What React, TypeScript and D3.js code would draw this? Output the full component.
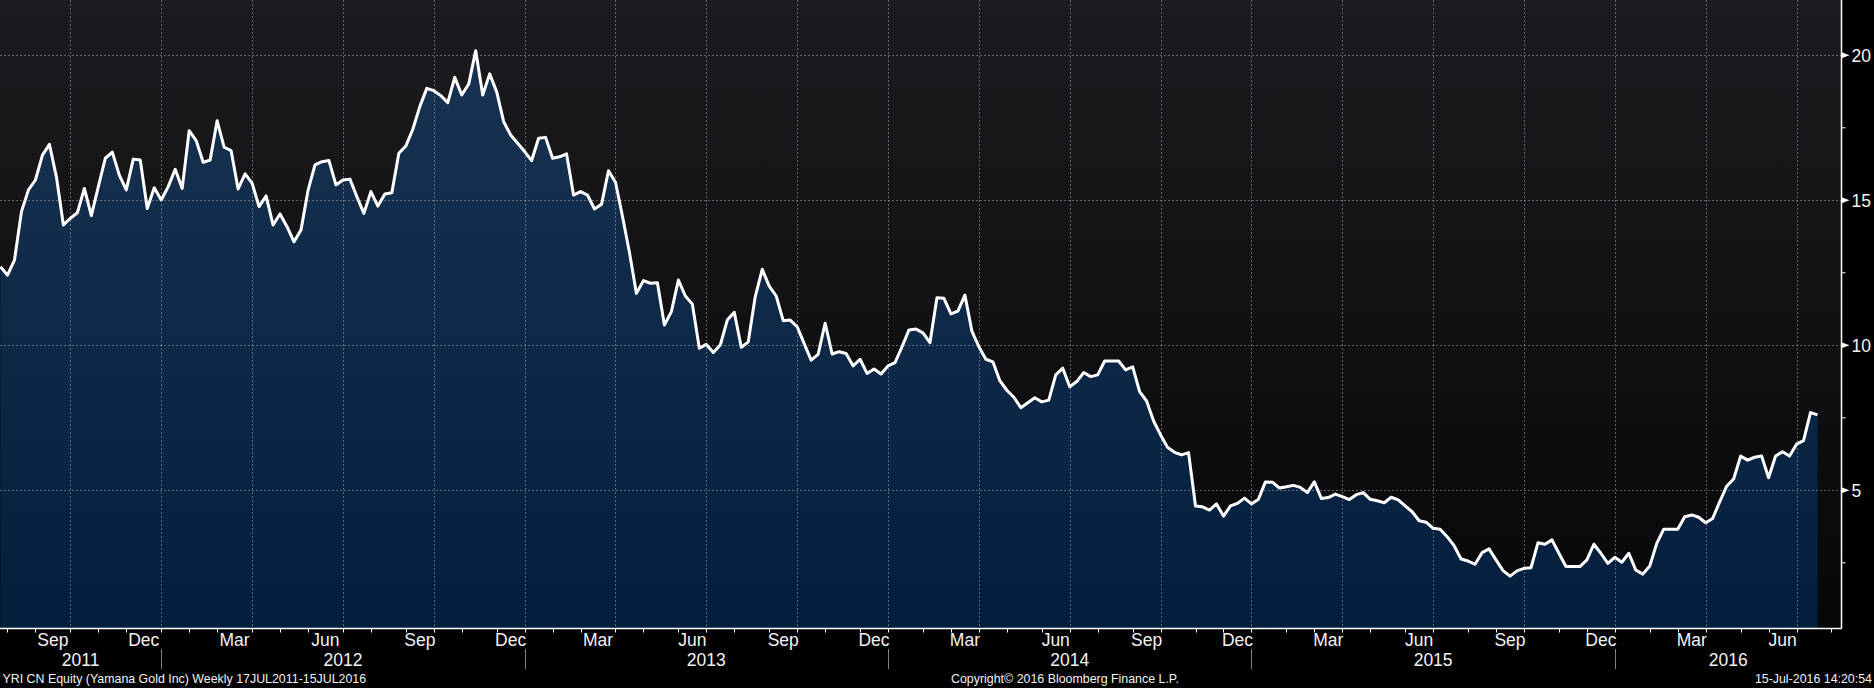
/**
 * YRI CN Equity weekly close, Bloomberg-style area chart
 * - week index x axis (Bloomberg spaces periods evenly)
 * - right value axis, month ticks / quarter labels / year row
 */
import { useEffect, useRef } from 'react'
import * as d3 from 'd3'

const W = 1874
const H = 688
const AXIS_X = 1841.5   // right value axis
const AXIS_Y = 628.5    // bottom time axis
const FONT = '"Liberation Sans", Arial, sans-serif'

// first weekly close (Friday) — 17JUL2011-15JUL2016 window
const START = new Date(2011, 6, 22)

// weekly closes, CAD
const PRICES: number[] = [
  12.71, 12.42, 12.94, 14.61, 15.36, 15.70, 16.56, 16.93, 15.81, 14.15,
  14.38, 14.57, 15.41, 14.47, 15.47, 16.45, 16.66, 15.87, 15.36, 16.42,
  16.39, 14.72, 15.43, 15.01, 15.47, 16.07, 15.41, 17.40, 17.06, 16.31,
  16.39, 17.74, 16.83, 16.71, 15.39, 15.91, 15.59, 14.78, 15.15, 14.15,
  14.53, 14.09, 13.57, 13.98, 15.33, 16.22, 16.33, 16.37, 15.53, 15.70,
  15.73, 15.12, 14.55, 15.30, 14.80, 15.22, 15.26, 16.62, 16.87, 17.45,
  18.23, 18.86, 18.78, 18.61, 18.37, 19.24, 18.63, 19.01, 20.16, 18.63,
  19.36, 18.74, 17.71, 17.25, 16.97, 16.68, 16.37, 17.14, 17.17, 16.45,
  16.50, 16.60, 15.18, 15.30, 15.18, 14.70, 14.86, 16.02, 15.62, 14.45,
  13.20, 11.79, 12.23, 12.14, 12.16, 10.70, 11.16, 12.25, 11.70, 11.42,
  9.90, 10.03, 9.75, 10.01, 10.87, 11.14, 9.93, 10.12, 11.68, 12.62,
  12.04, 11.70, 10.85, 10.87, 10.64, 10.06, 9.49, 9.69, 10.76, 9.70,
  9.78, 9.72, 9.29, 9.52, 9.03, 9.18, 9.01, 9.29, 9.40, 9.95,
  10.53, 10.56, 10.43, 10.09, 11.64, 11.62, 11.08, 11.18, 11.73, 10.49,
  9.95, 9.52, 9.43, 8.78, 8.45, 8.21, 7.85, 8.02, 8.19, 8.05,
  8.11, 8.98, 9.21, 8.57, 8.75, 9.06, 8.92, 8.98, 9.46, 9.46,
  9.46, 9.15, 9.26, 8.40, 8.08, 7.39, 6.91, 6.48, 6.31, 6.22,
  6.30, 4.46, 4.43, 4.32, 4.53, 4.11, 4.46, 4.55, 4.73, 4.53,
  4.69, 5.29, 5.28, 5.08, 5.12, 5.17, 5.10, 4.92, 5.29, 4.72,
  4.75, 4.87, 4.78, 4.68, 4.85, 4.92, 4.69, 4.64, 4.57, 4.76,
  4.67, 4.46, 4.26, 3.95, 3.90, 3.69, 3.66, 3.40, 3.09, 2.63,
  2.56, 2.45, 2.85, 2.98, 2.60, 2.23, 2.04, 2.22, 2.31, 2.33,
  3.19, 3.14, 3.29, 2.83, 2.37, 2.37, 2.37, 2.60, 3.14, 2.83,
  2.48, 2.69, 2.52, 2.83, 2.25, 2.11, 2.39, 3.17, 3.66, 3.66,
  3.66, 4.09, 4.15, 4.07, 3.88, 4.03, 4.60, 5.14, 5.39, 6.18,
  6.04, 6.14, 6.18, 5.43, 6.18, 6.33, 6.18, 6.59, 6.71, 7.68,
  7.60,
]

const Y_TICKS = [5, 10, 15, 20]
const Y_MINOR = [2.5, 7.5, 12.5, 17.5]
const MONTHS = ['Jan', 'Feb', 'Mar', 'Apr', 'May', 'Jun', 'Jul', 'Aug', 'Sep', 'Oct', 'Nov', 'Dec']
const QUARTER_END = [2, 5, 8, 11]

const FOOT_LEFT = 'YRI CN Equity (Yamana Gold Inc)  Weekly 17JUL2011-15JUL2016'
const FOOT_MID = 'Copyright\u00A9 2016 Bloomberg Finance L.P.'
const FOOT_RIGHT = '15-Jul-2016 14:20:54'

export default function App() {
  const svgRef = useRef<SVGSVGElement>(null)

  useEffect(() => {
    document.body.style.margin = '0'
    document.body.style.background = '#000'

    const svg = d3.select(svgRef.current)
    svg.selectAll('*').remove()
    svg.attr('width', W).attr('height', H).attr('viewBox', `0 0 ${W} ${H}`)

    const n = PRICES.length
    const x = d3.scaleLinear().domain([0, n - 1]).range([0.5, 1817.5])
    const y = d3.scaleLinear().domain([0, 20]).range([635.3, 55.3])

    // weeks on the axis (data + empty weeks up to the value axis)
    const weeks: Date[] = []
    for (let i = 0; x(i) <= AXIS_X + 14; i++) weeks.push(d3.timeDay.offset(START, 7 * i))

    // last week of each month -> month boundary tick
    const monthEnds: { i: number; m: number; yr: number }[] = []
    weeks.forEach((d, i) => {
      const next = d3.timeDay.offset(d, 7)
      if (next.getMonth() !== d.getMonth() && x(i) <= AXIS_X)
        monthEnds.push({ i, m: d.getMonth(), yr: d.getFullYear() })
    })

    const defs = svg.append('defs')
    const bg = defs.append('linearGradient').attr('id', 'bg')
      .attr('x1', 0).attr('x2', 0).attr('y1', 0).attr('y2', 1)
    bg.append('stop').attr('offset', 0).attr('stop-color', '#1c1c20')
    bg.append('stop').attr('offset', 1).attr('stop-color', '#07070a')
    const ag = defs.append('linearGradient').attr('id', 'area')
      .attr('gradientUnits', 'userSpaceOnUse')
      .attr('x1', 0).attr('x2', 0).attr('y1', y(20)).attr('y2', AXIS_Y)
    ag.append('stop').attr('offset', 0).attr('stop-color', '#183352')
    ag.append('stop').attr('offset', 1).attr('stop-color', '#041e3e')

    svg.append('rect').attr('width', W).attr('height', H).attr('fill', '#000')
    svg.append('rect').attr('x', 0).attr('y', 0)
      .attr('width', AXIS_X).attr('height', AXIS_Y).attr('fill', 'url(#bg)')

    // ── area + gridlines + line ──
    const area = d3.area<number>()
      .x((_, i) => x(i)).y0(AXIS_Y).y1((d) => y(d))
    svg.append('path').datum(PRICES).attr('d', area).attr('fill', 'url(#area)')

    const grid = svg.append('g')
      .attr('stroke', 'rgba(165,165,175,0.55)').attr('stroke-width', 1)
      .attr('stroke-dasharray', '2 2')
    Y_TICKS.forEach((v) => {
      grid.append('line')
        .attr('x1', 0).attr('x2', AXIS_X)
        .attr('y1', Math.round(y(v)) + 0.5).attr('y2', Math.round(y(v)) + 0.5)
    })
    monthEnds.filter((d) => QUARTER_END.includes(d.m)).forEach((d) => {
      const xv = Math.round(x(d.i)) + 0.5
      grid.append('line').attr('x1', xv).attr('x2', xv).attr('y1', 0).attr('y2', AXIS_Y)
    })

    const line = d3.line<number>().x((_, i) => x(i)).y((d) => y(d))
    svg.append('path').datum(PRICES).attr('d', line)
      .attr('fill', 'none').attr('stroke', '#fff').attr('stroke-width', 3)
      .attr('stroke-linejoin', 'round')

    // ── axes ──
    svg.append('line').attr('x1', 0).attr('x2', AXIS_X)
      .attr('y1', AXIS_Y).attr('y2', AXIS_Y).attr('stroke', '#fff').attr('stroke-width', 1.3)
    svg.append('line').attr('x1', AXIS_X).attr('x2', AXIS_X)
      .attr('y1', 0).attr('y2', AXIS_Y).attr('stroke', '#fff').attr('stroke-width', 1.5)

    // right axis: triangle markers + labels, minor ticks
    Y_TICKS.forEach((v) => {
      const yv = y(v)
      svg.append('path')
        .attr('d', `M${AXIS_X},${yv - 3} L${AXIS_X + 8},${yv} L${AXIS_X},${yv + 3} Z`)
        .attr('fill', '#fff')
      svg.append('text')
        .attr('x', AXIS_X + 10).attr('y', yv + 6.5)
        .attr('font-family', FONT).attr('font-size', 17.5).attr('fill', '#f2f2f2')
        .text(d3.format('d')(v))
    })
    Y_MINOR.forEach((v) => {
      svg.append('line')
        .attr('x1', AXIS_X).attr('x2', AXIS_X + 4)
        .attr('y1', y(v)).attr('y2', y(v))
        .attr('stroke', '#fff').attr('stroke-width', 1)
    })

    // bottom axis: month ticks, quarter labels
    monthEnds.forEach((d, k) => {
      const xv = Math.round(x(d.i)) + 0.5
      svg.append('line').attr('x1', xv).attr('x2', xv)
        .attr('y1', AXIS_Y).attr('y2', AXIS_Y + 4)
        .attr('stroke', '#fff').attr('stroke-width', 1)
      if (QUARTER_END.includes(d.m) && k > 0) {
        const cx = (x(monthEnds[k - 1].i) + x(d.i)) / 2
        svg.append('text')
          .attr('x', cx).attr('y', 646)
          .attr('text-anchor', 'middle')
          .attr('font-family', FONT).attr('font-size', 17.5).attr('fill', '#f2f2f2')
          .text(MONTHS[d.m])
      }
    })

    // year row: separators at year end, label centred in visible span
    const yearEnds = monthEnds.filter((d) => d.m === 11)
    yearEnds.forEach((d) => {
      const xv = Math.round(x(d.i)) + 0.5
      svg.append('line').attr('x1', xv).attr('x2', xv)
        .attr('y1', 649).attr('y2', 669)
        .attr('stroke', '#808080').attr('stroke-width', 1)
    })
    const bounds = [0, ...yearEnds.map((d) => x(d.i)), AXIS_X]
    const firstYear = weeks[0].getFullYear()
    for (let k = 0; k < bounds.length - 1; k++) {
      svg.append('text')
        .attr('x', (bounds[k] + bounds[k + 1]) / 2).attr('y', 666)
        .attr('text-anchor', 'middle')
        .attr('font-family', FONT).attr('font-size', 17.5).attr('fill', '#f2f2f2')
        .text(String(firstYear + k))
    }

    // ── footer ──
    const foot = svg.append('g')
      .attr('font-family', FONT).attr('font-size', 12.4).attr('fill', '#f2f2f2')
    foot.append('text').attr('x', 2.5).attr('y', 683).text(FOOT_LEFT)
    foot.append('text').attr('x', 1065).attr('y', 683).attr('text-anchor', 'middle').text(FOOT_MID)
    foot.append('text').attr('x', 1872).attr('y', 683).attr('text-anchor', 'end').text(FOOT_RIGHT)
  }, [])

  return (
    <svg ref={svgRef} style={{ position: 'fixed', left: 0, top: 0, display: 'block' }} />
  )
}
